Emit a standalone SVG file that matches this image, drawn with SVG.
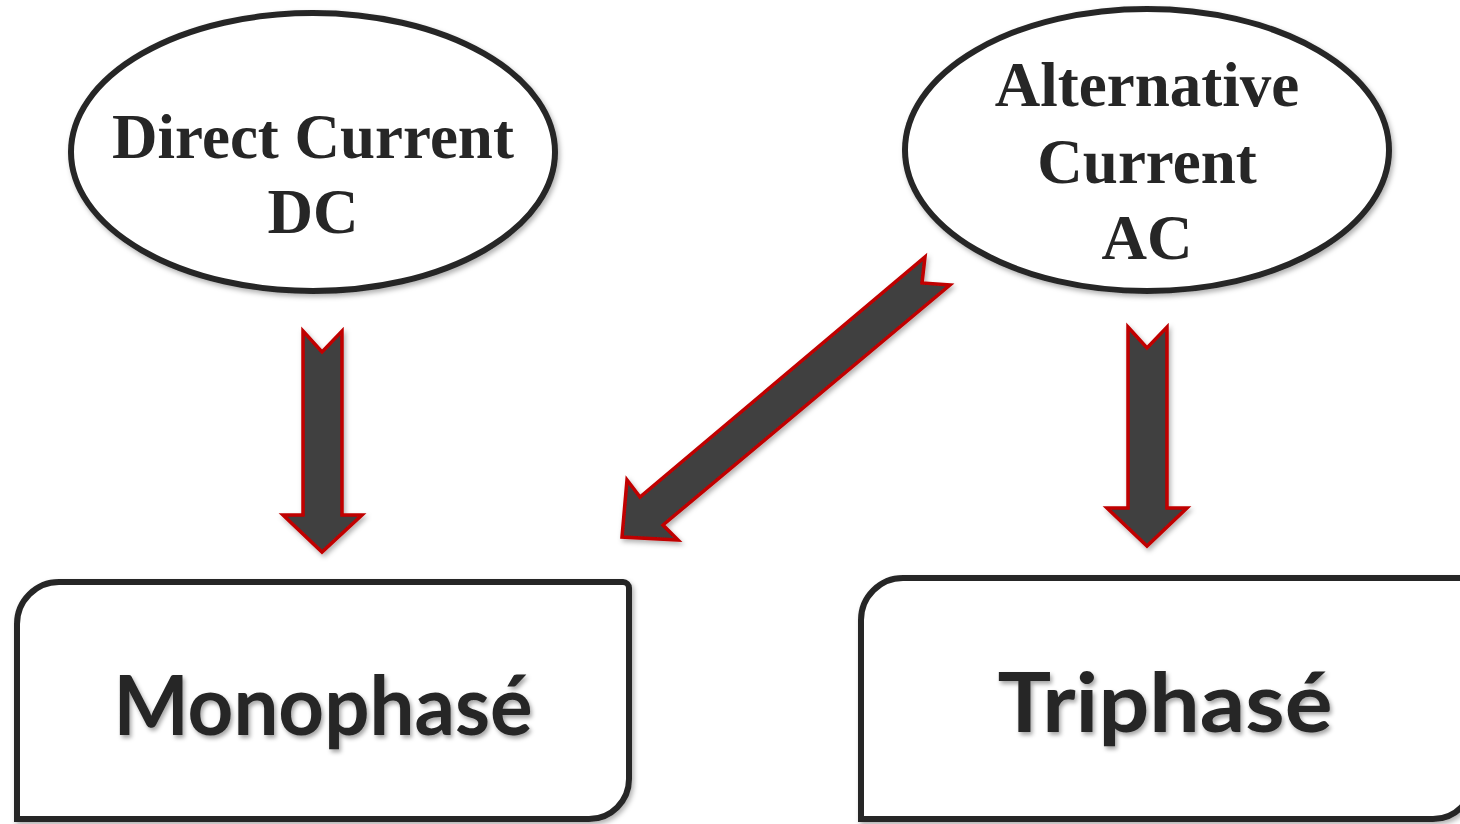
<svg xmlns="http://www.w3.org/2000/svg" width="1460" height="824" viewBox="0 0 1460 824">
<defs>
<filter id="sh" x="-10%" y="-10%" width="120%" height="120%"><feDropShadow dx="2" dy="3" stdDeviation="2.5" flood-color="#000" flood-opacity="0.3"/></filter>
<filter id="tsh" x="-5%" y="-5%" width="110%" height="120%"><feDropShadow dx="2" dy="3" stdDeviation="2" flood-color="#000" flood-opacity="0.35"/></filter>
</defs>
<style>
.ell{fill:#fff;stroke:#262626;stroke-width:6}
.box{fill:#fff;stroke:#262626;stroke-width:6}
.ser{font-family:"Liberation Serif","Times New Roman",serif;font-weight:bold;font-size:63px;fill:#262626;text-anchor:middle}
.san{font-family:Lato,"Open Sans",sans-serif;font-weight:bold;font-size:82px;fill:#262626;text-anchor:middle}
.arr{fill:#404040;stroke:#c00000;stroke-width:3.5;stroke-linejoin:miter}
</style>
<rect width="1460" height="824" fill="#fff"/>
<g id="dc">
<ellipse class="ell" cx="313" cy="152" rx="242" ry="139" filter="url(#sh)"/>
<text class="ser" x="313" y="158">Direct Current</text>
<text class="ser" x="313" y="233">DC</text>
</g>
<g id="ac">
<ellipse class="ell" cx="1147" cy="150" rx="242" ry="141" filter="url(#sh)"/>
<text class="ser" x="1147" y="106">Alternative</text>
<text class="ser" x="1147" y="183">Current</text>
<text class="ser" x="1147" y="259">AC</text>
</g>
<g id="mono">
<path class="box" filter="url(#sh)" d="M17,819 L17,624 A42,42 0 0 1 59,582 L623,582 A6,6 0 0 1 629,588 L629,779 A40,40 0 0 1 589,819 Z"/>
<text class="san" x="323" y="735" textLength="419" lengthAdjust="spacingAndGlyphs" filter="url(#tsh)">Monophasé</text>
</g>
<g id="tri">
<path class="box" filter="url(#sh)" d="M861,819 L861,620 A42,42 0 0 1 903,578 L1467,578 A6,6 0 0 1 1473,584 L1473,779 A40,40 0 0 1 1433,819 Z"/>
<text class="san" x="1165" y="732" textLength="335" lengthAdjust="spacingAndGlyphs" filter="url(#tsh)">Triphasé</text>
</g>
<g id="connectors" filter="url(#sh)">
<polygon class="arr" points="303,331 322,352 342,331 342,515 362,515 322,552 283,515 303,515"/>
<polygon class="arr" points="1128,327 1147,348 1167,327 1167,508 1187,508 1147,546 1107,508 1128,508"/>
<polygon class="arr" points="925,257 922,283 950,285 663,525 678,540 622,537 627,480 640,497"/>
</g>
</svg>
